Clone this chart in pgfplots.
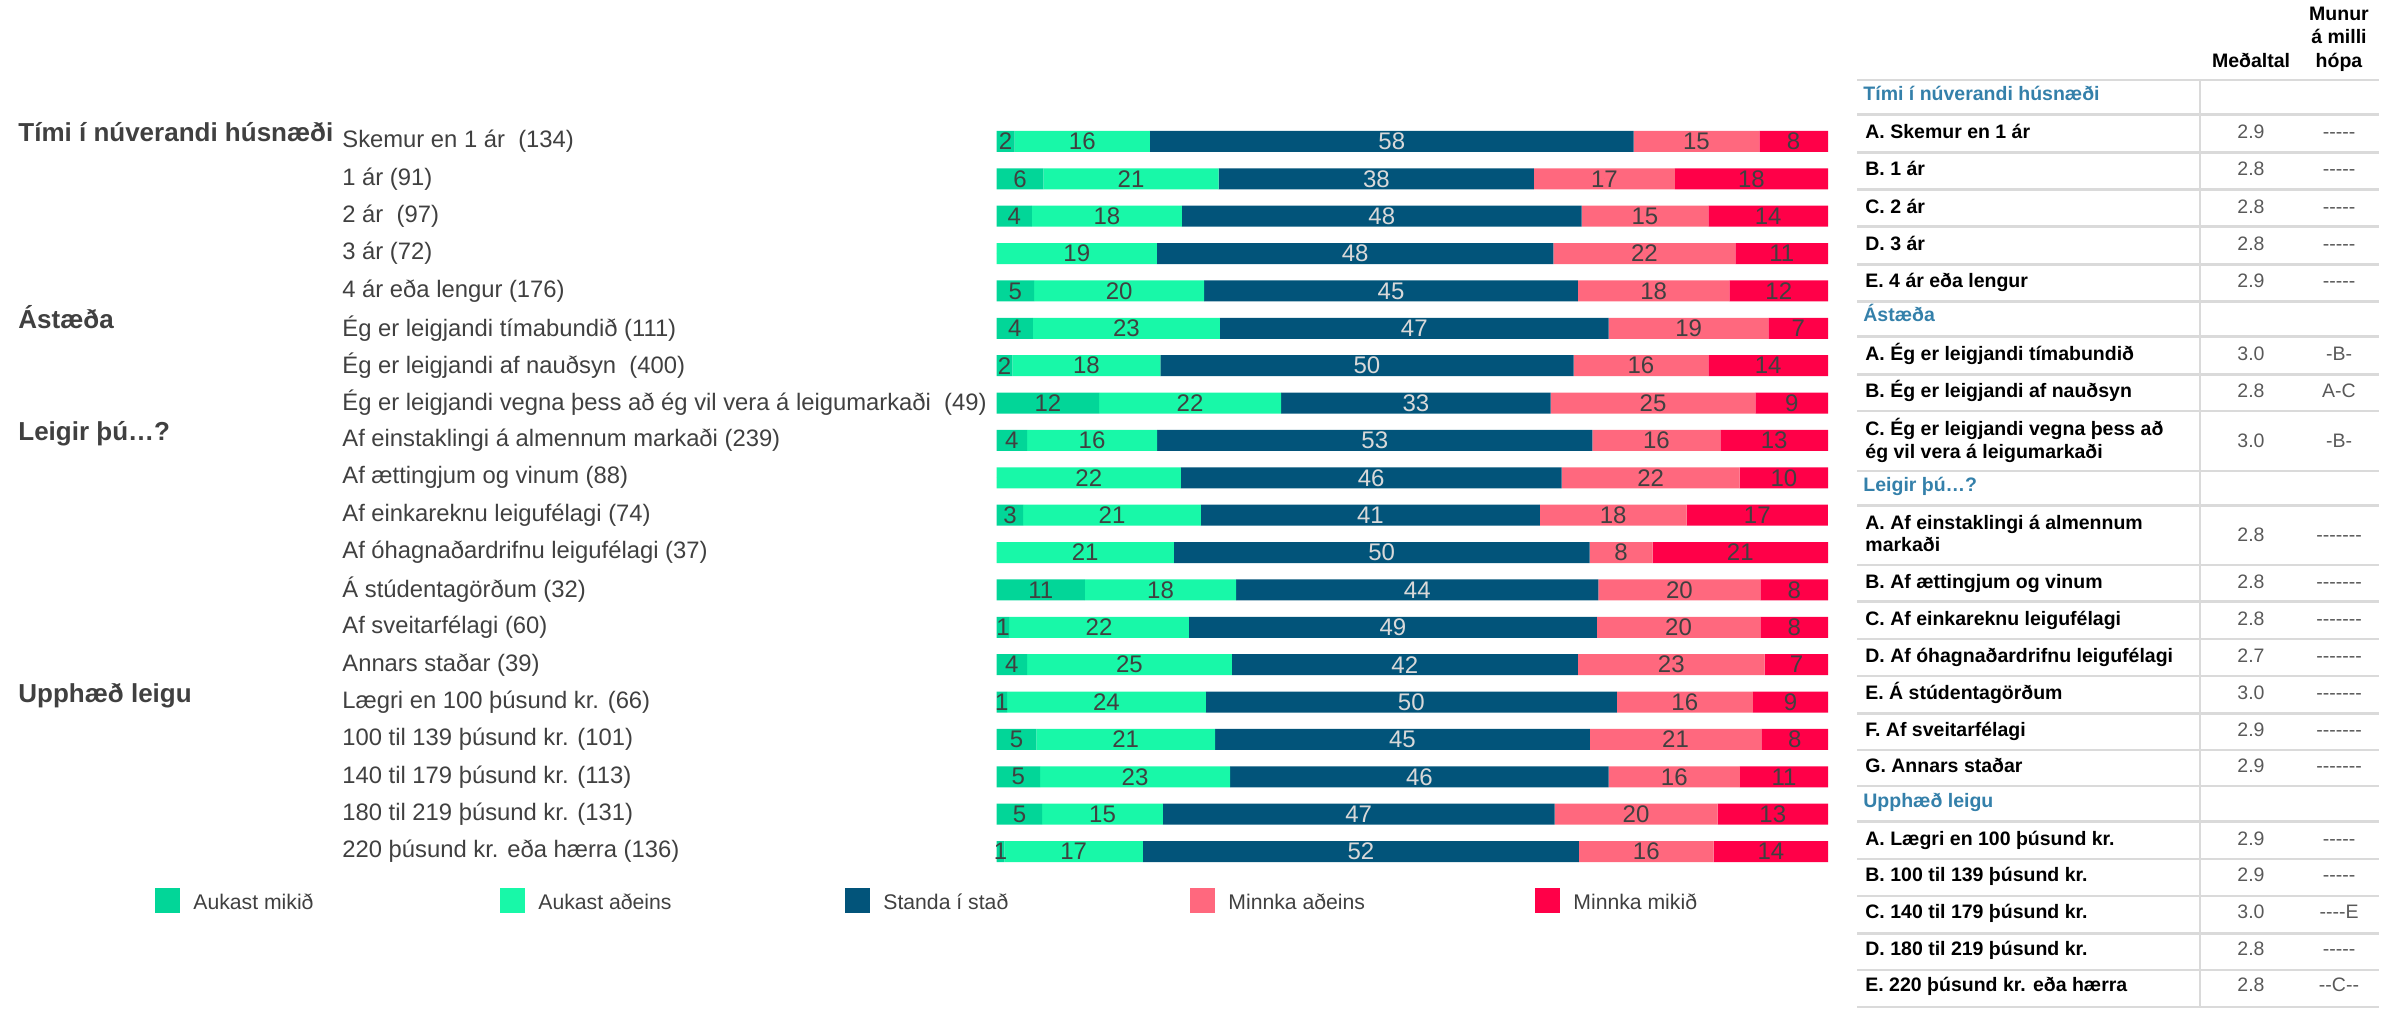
\documentclass[border=0pt]{standalone}
\usepackage{pgfplots}
\pgfplotsset{compat=1.18}
\usepackage{pgfplotstable}
\usepackage{fontspec}
\setmainfont{Liberation Sans}

\definecolor{cA}{RGB}{2,214,152}
\definecolor{cB}{RGB}{24,248,168}
\definecolor{cC}{RGB}{2,84,122}
\definecolor{cD}{RGB}{255,104,126}
\definecolor{cE}{RGB}{255,0,72}
\definecolor{txt}{RGB}{64,64,64}
\definecolor{lbl}{RGB}{217,217,217}
\definecolor{hdr}{RGB}{52,128,170}
\definecolor{gridc}{RGB}{218,218,218}
\definecolor{val}{RGB}{89,89,89}

\newcommand\catf{\fontsize{11.9}{14}\selectfont}
\newcommand\grpf{\fontsize{13}{15}\selectfont\bfseries}
\newcommand\barf{\fontsize{12}{14}\selectfont}
\newcommand\tabf{\fontsize{9.75}{11.5}\selectfont}
\newcommand\legf{\fontsize{10.6}{12.5}\selectfont}
\newcommand\dd{-\kern0pt}

\pgfplotstableread{
y a b c d e la lb lc ld le
1 2.15 16.29 58.18 15.11 8.27 2 16 58 15 8
2 5.60 21.11 37.92 16.94 18.44 6 21 38 17 18
3 4.23 18.05 48.08 15.24 14.40 4 18 48 15 14
4 0 19.28 47.69 21.89 11.14 {} 19 48 22 11
5 4.50 20.46 44.95 18.24 11.86 5 20 45 18 12
6 4.36 22.48 46.78 19.22 7.17 4 23 47 19 7
7 1.89 17.79 49.71 16.22 14.40 2 18 50 16 14
8 12.31 21.89 32.44 24.63 8.73 12 22 33 25 9
9 3.65 15.64 52.38 15.37 12.96 4 16 53 16 13
10 0 22.15 45.80 21.43 10.62 {} 22 46 22 10
11 3.19 21.37 40.78 17.65 17.00 3 21 41 18 17
12 0 21.30 50.03 7.56 21.11 {} 21 50 8 21
13 10.62 18.18 43.58 19.48 8.14 11 18 44 20 8
14 1.50 21.63 49.06 19.67 8.14 1 22 49 20 8
15 3.65 24.63 41.63 22.48 7.62 4 25 42 23 7
16 1.24 23.91 49.45 16.35 9.06 1 24 50 16 9
17 4.76 21.50 45.08 20.65 8.01 5 21 45 21 8
18 5.21 22.87 45.54 15.77 10.62 5 23 46 16 11
19 5.47 14.53 47.10 19.61 13.29 5 15 47 20 13
20 0.91 16.68 52.44 16.22 13.75 1 17 52 16 14
}\data

\pgfplotsset{
  base/.style={
    width=415.65pt, height=373.7pt, scale only axis,
    xmin=0, xmax=100, ymin=0.5, ymax=20.5, y dir=reverse,
    enlargelimits=false,
    axis line style={draw=none}, tick style={draw=none},
    xtick=\empty,
    at={(498.35pt,-61.4pt)}, anchor=north west, clip=false,
  },
  lab/.style={only marks, mark=*, mark size=0pt,
    mark options={draw=none,fill=none},
    point meta=explicit symbolic, nodes near coords,
    every node near coord/.append style={anchor=center, font=\barf, text=#1}},
}

\begin{document}
\begin{tikzpicture}
\useasboundingbox (0,0) rectangle (1197.5pt,-505pt);

\begin{axis}[base,
  xbar stacked, bar width=10.5pt,
  ytick={1,...,20},
  yticklabels={{Skemur en 1 ár~ (134)},{1 ár (91)},{2 ár~ (97)},{3 ár (72)},{4 ár eða lengur (176)},
    {Ég er leigjandi tímabundið (111)},{Ég er leigjandi af nauðsyn~ (400)},
    {Ég er leigjandi vegna þess að ég vil vera á leigumarkaði~ (49)},
    {Af einstaklingi á almennum markaði (239)},{Af ættingjum og vinum (88)},
    {Af einkareknu leigufélagi (74)},{Af óhagnaðardrifnu leigufélagi (37)},
    {Á stúdentagörðum (32)},{Af sveitarfélagi (60)},{Annars staðar (39)},
    {Lægri en 100 þúsund kr. (66)},{100 til 139 þúsund kr. (101)},
    {140 til 179 þúsund kr. (113)},{180 til 219 þúsund kr. (131)},
    {220 þúsund kr. eða hærra (136)}},
  yticklabel style={anchor=west, xshift=-327.35pt, inner sep=0pt, font=\catf, text=txt},
  legend columns=5,
  legend cell align=left,
  legend image code/.code={\fill[#1] (0pt,-4.9pt) rectangle (12.5pt,7.6pt);},
  legend style={at={(-1.01251,-0.0405)}, anchor=west, draw=none, fill=none,
    inner sep=0pt, font=\legf, text=txt, nodes={inner sep=0pt},
    /tikz/every odd column/.append style={column sep=6.5pt},
    /tikz/every even column/.append style={column sep=0pt}},
]
\addplot[fill=cA, draw=none] table[x=a, y=y] {\data};
\addlegendentry{\makebox[153.5pt][l]{Aukast mikið}}
\addplot[fill=cB, draw=none] table[x=b, y=y] {\data};
\addlegendentry{\makebox[153.5pt][l]{Aukast aðeins}}
\addplot[fill=cC, draw=none] table[x=c, y=y] {\data};
\addlegendentry{\makebox[153.5pt][l]{Standa í stað}}
\addplot[fill=cD, draw=none] table[x=d, y=y] {\data};
\addlegendentry{\makebox[153.5pt][l]{Minnka aðeins}}
\addplot[fill=cE, draw=none] table[x=e, y=y] {\data};
\addlegendentry{\makebox[153.5pt][l]{Minnka mikið}}
\end{axis}

\begin{axis}[base, ytick=\empty]
\addplot[lab=txt] table[x expr=\thisrow{a}/2, y=y, meta=la] {\data};
\addplot[lab=txt] table[x expr=\thisrow{a}+\thisrow{b}/2, y=y, meta=lb] {\data};
\addplot[lab=lbl] table[x expr=\thisrow{a}+\thisrow{b}+\thisrow{c}/2, y=y, meta=lc] {\data};
\addplot[lab=txt] table[x expr=\thisrow{a}+\thisrow{b}+\thisrow{c}+\thisrow{d}/2, y=y, meta=ld] {\data};
\addplot[lab=txt] table[x expr=\thisrow{a}+\thisrow{b}+\thisrow{c}+\thisrow{d}+\thisrow{e}/2, y=y, meta=le] {\data};
\end{axis}

\begin{scope}[x=0.5pt,y=-0.5pt]
% group labels
\begin{scope}[every node/.style={anchor=mid west, inner sep=0pt, font=\grpf, text=txt}]
\node at (18,136.5) {Tími í núverandi húsnæði};
\node at (18,323.4) {Ástæða};
\node at (18,435.5) {Leigir þú…?};
\node at (18,697) {Upphæð leigu};
\end{scope}

% table grid
\foreach \yy in {80,114.3,152.3,189.3,226.7,264.3,301.7,336.7,374.3,411,471,505.7,565,601.7,639,676,713.3,750,786,821.7,859,896,933.3,970,1007}
  \draw[gridc, line width=1.35pt] (1857,\yy) -- (2379,\yy);
\draw[gridc, line width=0.9pt] (2200,80) -- (2200,1007);

% headers
\begin{scope}[every node/.style={anchor=mid, inner sep=0pt, font=\tabf\bfseries, text=black}]
\node at (2251,62.3) {Meðaltal};
\node at (2339,15) {Munur};
\node at (2339,38.3) {á milli};
\node at (2339,62.3) {hópa};
\end{scope}

\begin{scope}[every node/.style={anchor=mid west, inner sep=0pt, font=\tabf\bfseries, text=hdr}]
\node at (1863,95) {Tími í núverandi húsnæði};
\node at (1863,316.7) {Ástæða};
\node at (1863,486.7) {Leigir þú…?};
\node at (1863,802.7) {Upphæð leigu};
\end{scope}

\begin{scope}[every node/.style={anchor=mid west, inner sep=0pt, font=\tabf\bfseries, text=black}]
\node at (1865,133.3) {A. Skemur en 1 ár};
\node at (1865,170.7) {B. 1 ár};
\node at (1865,208.3) {C. 2 ár};
\node at (1865,245.7) {D. 3 ár};
\node at (1865,282.7) {E. 4 ár eða lengur};
\node at (1865,355.7) {A. Ég er leigjandi tímabundið};
\node at (1865,392.7) {B. Ég er leigjandi af nauðsyn};
\node at (1865,430.7) {C. Ég er leigjandi vegna þess að};
\node at (1865,453.3) {ég vil vera á leigumarkaði};
\node at (1865,524.3) {A. Af einstaklingi á almennum};
\node at (1865,546.7) {markaði};
\node at (1865,583.3) {B. Af ættingjum og vinum};
\node at (1865,620.7) {C. Af einkareknu leigufélagi};
\node at (1865,657.7) {D. Af óhagnaðardrifnu leigufélagi};
\node at (1865,694.3) {E. Á stúdentagörðum};
\node at (1865,731) {F. Af sveitarfélagi};
\node at (1865,767.7) {G. Annars staðar};
\node at (1865,840) {A. Lægri en 100 þúsund kr.};
\node at (1865,876.7) {B. 100 til 139 þúsund kr.};
\node at (1865,913.3) {C. 140 til 179 þúsund kr.};
\node at (1865,950) {D. 180 til 219 þúsund kr.};
\node at (1865,986.7) {E. 220 þúsund kr. eða hærra};
\end{scope}

\begin{scope}[every node/.style={anchor=mid, inner sep=0pt, font=\tabf, text=val}]
\foreach \yy/\m/\d in {133.3/2.9/{\dd\dd\dd\dd-}, 170.7/2.8/{\dd\dd\dd\dd-}, 208.3/2.8/{\dd\dd\dd\dd-},
  245.7/2.8/{\dd\dd\dd\dd-}, 282.7/2.9/{\dd\dd\dd\dd-},
  355.7/3.0/{\dd B\dd}, 392.7/2.8/{A\dd C}, 442/3.0/{\dd B\dd},
  536.7/2.8/{\dd\dd\dd\dd\dd\dd-}, 583.3/2.8/{\dd\dd\dd\dd\dd\dd-}, 620.7/2.8/{\dd\dd\dd\dd\dd\dd-},
  657.7/2.7/{\dd\dd\dd\dd\dd\dd-}, 694.3/3.0/{\dd\dd\dd\dd\dd\dd-}, 731/2.9/{\dd\dd\dd\dd\dd\dd-},
  767.7/2.9/{\dd\dd\dd\dd\dd\dd-},
  840/2.9/{\dd\dd\dd\dd-}, 876.7/2.9/{\dd\dd\dd\dd-}, 913.3/3.0/{\dd\dd\dd\dd E},
  950/2.8/{\dd\dd\dd\dd-}, 986.7/2.8/{\dd\dd C\dd-}}
{
  \node at (2251,\yy) {\m};
  \node at (2339,\yy) {\d};
}
\end{scope}
\end{scope}
\end{tikzpicture}
\end{document}
